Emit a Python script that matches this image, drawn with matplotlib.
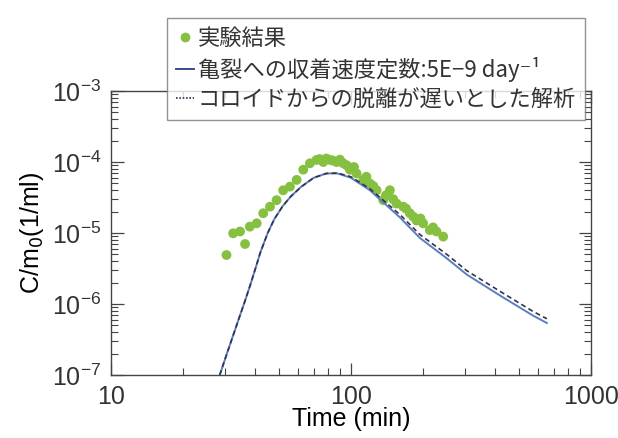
import matplotlib
matplotlib.use("Agg")
import matplotlib.pyplot as plt
from matplotlib.lines import Line2D
import numpy as np

plt.rcParams.update({
    "font.family": ["Liberation Sans Narrow", "Liberation Sans", "DejaVu Sans"],
    "mathtext.fontset": "custom",
    "mathtext.rm": "Liberation Sans Narrow",
    "mathtext.it": "Liberation Sans Narrow:italic",
    "font.size": 18,
})
GREEN, BLUE, DARK, AXC = "#86c040", "#5a7fc0", "#34344a", "#444444"

# ---------------- data ----------------
# experiment (Time in min, C/m0 in 1/ml)
exp_t = [30.3, 36.2, 32.3, 34.5, 37.9, 40.5, 43.1, 46.0, 49.0, 52.2, 55.7,
         59.4, 63.3, 67.5, 71.9, 76.7, 81.8, 87.1, 92.9, 99.1, 105.6, 112.5,
         120, 128, 136.4, 145.4, 155, 165.2, 176.1, 187.8, 200, 213.3, 227.4,
         242.5, 74, 79, 84, 90, 96, 103, 116, 124, 140, 150, 170, 182, 195, 220]
exp_c = [4.9e-6, 7.0e-6, 9.9e-6, 1.05e-5, 1.23e-5, 1.37e-5, 1.9e-5, 2.35e-5,
         2.9e-5, 4.0e-5, 4.5e-5, 5.6e-5, 7.8e-5, 9.6e-5, 1.07e-4, 1.0e-4,
         1.07e-4, 1.0e-4, 9.6e-5, 7.8e-5, 6.9e-5, 5.6e-5, 5.0e-5, 4.0e-5,
         2.9e-5, 4.0e-5, 2.6e-5, 2.35e-5, 1.9e-5, 1.5e-5, 1.37e-5, 1.1e-5,
         1.05e-5, 8.9e-6, 1.1e-4, 1.12e-4, 1.05e-4, 1.08e-4, 9.0e-5, 8.5e-5,
         6.2e-5, 4.6e-5, 3.4e-5, 3.0e-5, 2.2e-5, 1.7e-5, 1.6e-5, 1.2e-5]

# model: sorption rate constant to fractures 5E-9 day^-1 (solid)
mod_t = [28.4, 30, 32, 34, 36, 38, 40, 42, 45, 48, 52, 56, 62, 70, 79, 88,
         100, 120, 160, 194, 251, 304, 418, 573, 656]
mod_c = [1.0e-7, 1.74e-7, 3.3e-7, 6.0e-7, 1.05e-6, 1.82e-6, 3.16e-6, 5.4e-6,
         1.0e-5, 1.58e-5, 2.4e-5, 3.24e-5, 4.47e-5, 6.0e-5, 6.9e-5, 6.9e-5,
         6.0e-5, 4.0e-5, 1.66e-5, 8.5e-6, 4.4e-6, 2.6e-6, 1.32e-6, 6.9e-7,
         5.4e-7]
# model: slow desorption from colloids (dashed)
slow_t = [28.4, 30, 32, 34, 36, 38, 40, 42, 45, 48, 52, 56, 62, 70, 79, 88,
          100, 120, 160, 194, 251, 304, 418, 573, 656]
slow_c = [1.0e-7, 1.74e-7, 3.3e-7, 6.0e-7, 1.05e-6, 1.82e-6, 3.16e-6, 5.4e-6,
          1.0e-5, 1.58e-5, 2.4e-5, 3.24e-5, 4.47e-5, 6.0e-5, 6.9e-5, 7.0e-5,
          6.2e-5, 4.2e-5, 1.82e-5, 9.5e-6, 5.0e-6, 2.95e-6, 1.51e-6, 7.9e-7,
          6.2e-7]

x_ticks = [10, 100, 1000]
x_ticklabels = ["10", "100", "1000"]

labels = ["実験結果",
          "亀裂への収着速度定数:5E−9 day⁻¹",
          "コロイドからの脱離が遅いとした解析"]

# ---------------- plot ----------------
fig = plt.figure(figsize=(6.18, 4.38), dpi=100)
ax = fig.add_axes([0.1796, 0.1438, 0.7764, 0.6484])
ax.set_xscale("log"); ax.set_yscale("log")

ax.scatter(exp_t, exp_c, s=50, color=GREEN, edgecolors="none", zorder=2)
ax.plot(mod_t, mod_c, color=BLUE, lw=1.4, zorder=3)
ax.plot(slow_t, slow_c, color=DARK, lw=1.2, ls=(0, (3, 2)), zorder=4)

ax.set_xlim(10, 1000); ax.set_ylim(1e-7, 1e-3)
ax.set_xticks(x_ticks, x_ticklabels)
ax.set_xlabel("Time (min)", labelpad=-1)
ax.set_ylabel("C/m$_0$(1/ml)", labelpad=4)
for s in ax.spines.values():
    s.set_color(AXC); s.set_linewidth(1.0)
ax.tick_params(which="both", direction="in", top=True, right=True, color=AXC)
ax.tick_params(which="major", length=9, width=0.9, labelsize=18, pad=7,
               labelcolor="#333333")
ax.tick_params(which="minor", length=5, width=0.8)

handles = [
    Line2D([], [], marker="o", ls="none", color=GREEN, ms=6),
    Line2D([], [], color="#3c4a8c", lw=1.4),
    Line2D([], [], color=DARK, lw=1.2, ls=(0, (1, 1))),
]
leg = fig.legend(handles, labels, loc="upper left",
                 bbox_to_anchor=(0.270, 0.959),
                 borderaxespad=0, frameon=True, fancybox=False,
                 handlelength=0.8, handletextpad=0.2, labelspacing=0.3,
                 borderpad=0.4,
                 prop={"family": ["Noto Sans CJK JP", "DejaVu Sans"], "size": 16})
leg.get_frame().set_edgecolor("#777777")
leg.get_frame().set_linewidth(1.0)
for t in leg.get_texts():
    t.set_color("#333333")

fig.savefig("out.png", dpi=100)
